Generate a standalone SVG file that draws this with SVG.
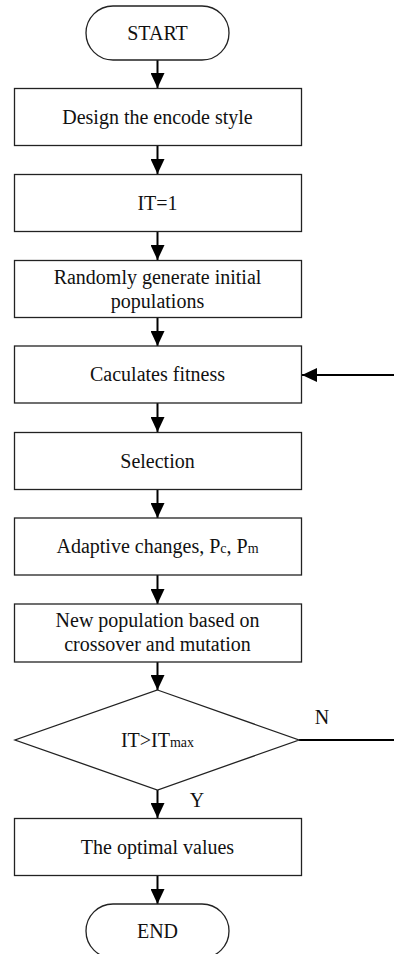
<svg xmlns="http://www.w3.org/2000/svg" width="394" height="954" viewBox="0 0 394 954">
<defs>
<style>
.box{fill:#fff;stroke:#222;stroke-width:1.3}
.t{font-family:'Liberation Serif','Times New Roman',Times,serif;font-size:20px;fill:#111;text-anchor:middle}
.sub{font-size:14px}
.c{stroke:#000;stroke-width:2;fill:none}
</style>
<marker id="ah" markerUnits="userSpaceOnUse" markerWidth="16" markerHeight="14" refX="15" refY="7" orient="auto">
<path d="M0,0 L15,7 L0,14 Z" fill="#000"/>
</marker>
</defs>
<rect width="394" height="954" fill="#fff"/>
<g id="connectors">
<line class="c" x1="157.5" y1="60" x2="157.5" y2="88" marker-end="url(#ah)"/>
<line class="c" x1="157.5" y1="146" x2="157.5" y2="174" marker-end="url(#ah)"/>
<line class="c" x1="157.5" y1="232" x2="157.5" y2="260" marker-end="url(#ah)"/>
<line class="c" x1="157.5" y1="317" x2="157.5" y2="346" marker-end="url(#ah)"/>
<line class="c" x1="157.5" y1="403" x2="157.5" y2="432" marker-end="url(#ah)"/>
<line class="c" x1="157.5" y1="489" x2="157.5" y2="518" marker-end="url(#ah)"/>
<line class="c" x1="157.5" y1="575" x2="157.5" y2="604" marker-end="url(#ah)"/>
<line class="c" x1="157.5" y1="662" x2="157.5" y2="690" marker-end="url(#ah)"/>
<line class="c" x1="157.5" y1="790" x2="157.5" y2="818" marker-end="url(#ah)"/>
<line class="c" x1="157.5" y1="876" x2="157.5" y2="904" marker-end="url(#ah)"/>
<line class="c" x1="394" y1="375" x2="302" y2="375" marker-end="url(#ah)"/>
<line class="c" x1="299" y1="740" x2="394" y2="740"/>
<text class="t" x="322" y="724" font-family="Liberation Serif, serif">N</text>
<text class="t" x="197" y="807" font-family="Liberation Serif, serif">Y</text>
</g>
<g id="start">
<rect class="box" x="86" y="6" width="143" height="54" rx="27" ry="27"/>
<text class="t" x="157.5" y="40">START</text>
</g>
<g id="design">
<rect class="box" x="14.5" y="88.5" width="287" height="57"/>
<text class="t" x="157.5" y="123.5">Design the encode style</text>
</g>
<g id="it1">
<rect class="box" x="14.5" y="174.5" width="287" height="57"/>
<text class="t" x="157.5" y="209.5">IT=1</text>
</g>
<g id="random">
<rect class="box" x="14.5" y="260.5" width="287" height="57"/>
<text class="t" x="157.5" y="283.5">Randomly generate initial</text>
<text class="t" x="157.5" y="307.5">populations</text>
</g>
<g id="fitness">
<rect class="box" x="14.5" y="346" width="287" height="57"/>
<text class="t" x="157.5" y="381">Caculates fitness</text>
</g>
<g id="selection">
<rect class="box" x="14.5" y="432.5" width="287" height="57"/>
<text class="t" x="157.5" y="467.5">Selection</text>
</g>
<g id="adaptive">
<rect class="box" x="14.5" y="518" width="287" height="57"/>
<text class="t" x="157.5" y="553">Adaptive changes, P<tspan class="sub">c</tspan>, P<tspan class="sub">m</tspan></text>
</g>
<g id="newpop">
<rect class="box" x="14.5" y="604" width="287" height="58"/>
<text class="t" x="157.5" y="627">New population based on</text>
<text class="t" x="157.5" y="650.5">crossover and mutation</text>
</g>
<g id="decision">
<polygon class="box" points="157.5,690 299,740 157.5,790 15,740"/>
<text class="t" x="157.5" y="747">IT&gt;IT<tspan class="sub">max</tspan></text>
</g>
<g id="optimal">
<rect class="box" x="14.5" y="818.5" width="287" height="57"/>
<text class="t" x="157.5" y="853.5">The optimal values</text>
</g>
<g id="end">
<rect class="box" x="86" y="904" width="143" height="54" rx="27" ry="27"/>
<text class="t" x="157.5" y="938">END</text>
</g>
</svg>
